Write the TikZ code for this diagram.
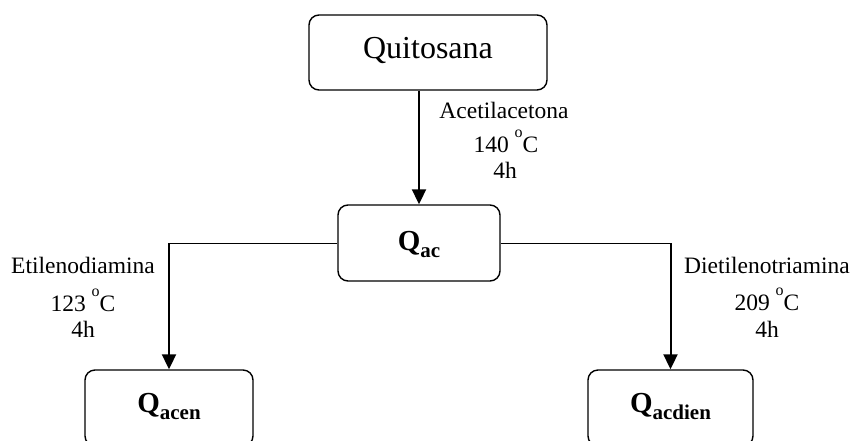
\documentclass[tikz,border=0pt]{standalone}
\usepackage{fontspec}
\setmainfont{Liberation Serif}
\usetikzlibrary{arrows.meta}
\tikzset{
  box/.style={draw, line width=1.4pt, rounded corners=10pt, inner sep=0pt},
  flow/.style={line width=2pt, -{Triangle[width=14pt,length=15pt]}},
  thin line/.style={line width=0.9pt},
  lab/.style={anchor=base, inner sep=0pt, font=\fontsize{23.5}{28}\selectfont},
}
\newcommand{\qsub}[1]{{\fontsize{29}{32}\selectfont\bfseries Q}\raisebox{-7pt}{\fontsize{21}{24}\selectfont\bfseries #1}}
\newcommand{\degC}[1]{#1 \raisebox{15pt}{\fontsize{16}{16}\selectfont o}C}
\begin{document}
\begin{tikzpicture}[x=1pt,y=-1pt]
\useasboundingbox (0,0) rectangle (854,440);
\clip (0,0) rectangle (854,440);
\node[box, minimum width=238pt, minimum height=75pt] (quit) at (428,52.5) {};
\node[anchor=base, inner sep=0pt, font=\fontsize{32}{36}\selectfont] (quittext) at (428,58) {Quitosana};
\node[box, minimum width=162pt, minimum height=76pt] (qac) at (419,243) {};
\node[inner sep=0pt] (qactext) at (419,244) {\qsub{ac}};
\node[box, minimum width=168pt, minimum height=76pt] (qacen) at (169,408) {};
\node[inner sep=0pt] (qacentext) at (169,406) {\qsub{acen}};
\node[box, minimum width=165pt, minimum height=76pt] (qacdien) at (670.5,408) {};
\node[inner sep=0pt] (qacdientext) at (670.5,406) {\qsub{acdien}};
% connectors
\draw[flow] (quit.south -| qac.north) -- (qac.north);
\coordinate (lj) at (qac.west -| qacen.north);
\coordinate (rj) at (qac.east -| qacdien.north);
\draw[thin line] (qac.west) -- (lj);
\draw[thin line] (qac.east) -- (rj);
\draw[flow] (lj) -- (qacen.north);
\draw[flow] (rj) -- (qacdien.north);
% labels
\node[lab] (l1a) at (504,118) {Acetilacetona};
\node[lab] (l1b) at (506,152) {\degC{140}};
\node[lab] (l1c) at (505,178) {4h};
\node[lab] (l2a) at (83,273) {Etilenodiamina};
\node[lab] (l2b) at (83,311) {\degC{123}};
\node[lab] (l2c) at (83,337) {4h};
\node[lab] (l3a) at (767,273) {Dietilenotriamina};
\node[lab] (l3b) at (767,310) {\degC{209}};
\node[lab] (l3c) at (767,337) {4h};
\end{tikzpicture}
\end{document}
